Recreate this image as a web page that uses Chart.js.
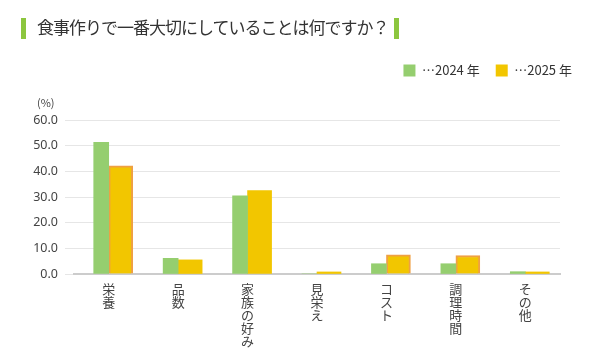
<!DOCTYPE html>
<html><head><meta charset="utf-8">
<script src="https://cdn.jsdelivr.net/npm/chart.js@4/dist/chart.umd.min.js"></script>
<style>
html,body{margin:0;padding:0;background:#fff;}
#wrap{position:relative;width:615px;height:350px;overflow:hidden;}
#title{position:absolute;left:0;top:14px;height:26px;font-family:"Noto Sans CJK JP",sans-serif;font-size:17px;letter-spacing:-1px;color:#333;line-height:26px;white-space:nowrap;}
#title .bar{display:inline-block;width:5px;height:21px;background:#8cc63e;vertical-align:middle;position:relative;top:-1px;}
#unit{position:absolute;left:37px;top:94px;font-family:"Noto Sans CJK JP",sans-serif;font-size:11px;color:#444;}
canvas{position:absolute;left:0;top:0;}
</style></head>
<body>
<div id="wrap">
<canvas id="c" width="615" height="350"></canvas>
<div id="title"><span class="bar" style="margin-left:21px;margin-right:11px"></span>食事作りで一番大切にしていることは何ですか？<span class="bar" style="margin-left:5px"></span></div>
<div id="unit">(%)</div>
</div>
<script>
const categories = [['栄','養'], ['品','数'], ['家','族','の','好','み'], ['見','栄','え'], ['コ','ス','ト'], ['調','理','時','間'], ['そ','の','他']];
const seriesNames = ['⋯2024 年', '⋯2025 年'];
const values2024 = [51.3, 6.1, 30.5, 0, 4.0, 4.0, 0.9];
const values2025 = [42.1, 5.5, 32.5, 0.8, 7.5, 7.2, 0.8];
const highlight2025 = [true, false, false, false, true, true, false];
const yTicks = [0, 10, 20, 30, 40, 50, 60];

const GREEN = '#95ce6f', YELLOW = '#f2c600', ORANGE = '#efa043';

const legendSpacer = {
  id: 'legendSpacer',
  beforeUpdate(chart) {
    const lg = chart.legend;
    if (lg && !lg._patched) {
      const orig = lg.fit;
      lg.fit = function () { orig.call(this); this.height += 33; };
      lg._patched = true;
    }
  },
  afterLayout(chart) {
    const lg = chart.legend;
    if (lg) { lg.left += 28; lg.right += 28; }
  }
};

new Chart(document.getElementById('c'), {
  type: 'bar',
  data: {
    labels: categories,
    datasets: [
      { label: seriesNames[0], data: values2024, backgroundColor: GREEN, barThickness: 15, borderWidth: 0 },
      { label: seriesNames[1], data: values2025, backgroundColor: YELLOW, barThickness: 24,
        borderColor: ORANGE, borderWidth: highlight2025.map(h => h ? 2 : 0) }
    ]
  },
  options: {
    responsive: false,
    animation: false,
    devicePixelRatio: 1,
    layout: { padding: { left: 0, right: 55, top: 48, bottom: 0 } },
    plugins: {
      legend: {
        position: 'top', align: 'end',
        labels: {
          boxWidth: 12, boxHeight: 12, padding: 16, color: '#333',
          font: { family: '"Noto Sans CJK JP", sans-serif', size: 13 },
          generateLabels(chart) {
            return chart.data.datasets.map((d, i) => ({
              text: d.label, fillStyle: d.backgroundColor, strokeStyle: d.backgroundColor,
              lineWidth: 0, datasetIndex: i, fontColor: '#333'
            }));
          }
        }
      },
      tooltip: { enabled: false }
    },
    scales: {
      x: {
        grid: { display: false },
        border: { color: '#cccccc', width: 2 },
        ticks: { color: '#444', padding: 1, maxRotation: 0, autoSkip: false,
          font: { family: '"Noto Sans CJK JP", sans-serif', size: 13, lineHeight: 1.0 } },
        afterFit(s) { s.height = 76; }
      },
      y: {
        min: 0, max: 60,
        afterBuildTicks(s) { s.ticks = yTicks.map(v => ({ value: v })); },
        grid: { color: '#e6e6e6', lineWidth: 1, tickLength: 9, drawTicks: true },
        border: { display: false },
        ticks: { color: '#444', padding: 7, callback: v => Number(v).toFixed(1),
          font: { family: '"Noto Sans", sans-serif', size: 12.5 } },
        afterFit(s) { s.width = 74; }
      }
    }
  },
  plugins: [legendSpacer]
});
</script>
</body></html>
